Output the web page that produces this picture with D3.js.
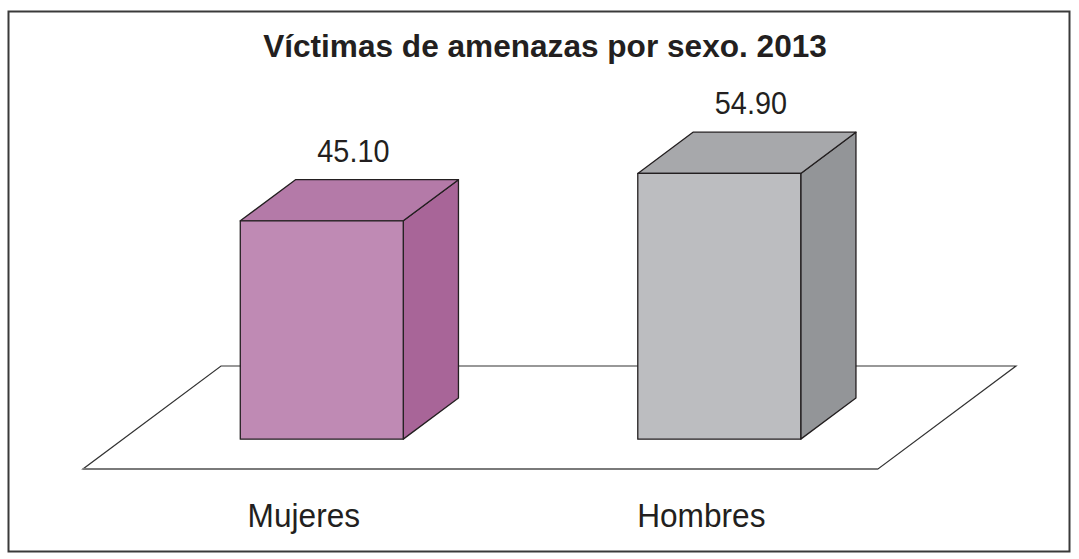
<!DOCTYPE html>
<html>
<head>
<meta charset="utf-8">
<script src="https://cdn.jsdelivr.net/npm/d3@7"></script>
<style>
  body { margin: 0; background: #fff; }
  svg { display: block; font-family: 'Liberation Sans', Arial, sans-serif; }
</style>
</head>
<body>
<div id="chart"></div>
<script>
// Chart data
const categories = ['Mujeres', 'Hombres'];
const values = [45.10, 54.90];
const chartTitle = 'Víctimas de amenazas por sexo. 2013';

const frontColors = ['#bf8ab4', '#bcbdc0'];
const topColors = ['#b47aa8', '#a7a8ab'];
const sideColors = ['#a86598', '#939598'];

const w = 1079;
const h = 559;

// floor geometry (oblique projection)
const floorFrontY = 469;
const depthX = 138; // horizontal shift for full floor depth
const depthY = -103; // vertical shift for full floor depth
const barDepth0 = 0.29;
const barDepth1 = 0.69;

const svg = d3.select('#chart')
  .append('svg')
  .attr('width', w)
  .attr('height', h);

// outer frame
svg.append('rect')
  .attr('x', 8.5)
  .attr('y', 11.5)
  .attr('width', 1061)
  .attr('height', 540)
  .attr('fill', 'none')
  .attr('stroke', '#3a3a3a')
  .attr('stroke-width', 2);

svg.append('text')
  .attr('x', 545)
  .attr('y', 57)
  .attr('text-anchor', 'middle')
  .attr('font-size', 31.6)
  .attr('font-weight', 'bold')
  .attr('fill', '#231f20')
  .text(chartTitle);

// scales: x along the front edge of the floor, y bar height in px
const xscale = d3.scaleBand()
  .domain(categories)
  .range([83, 878])
  .paddingInner(0.59)
  .paddingOuter(0.295);

const hscale = d3.scaleLinear()
  .domain([0, 60])
  .range([0, 290.4]);

// project a point at (front x, depth fraction, height)
function proj(x, d, z) {
  return [x + d * depthX, floorFrontY + d * depthY - z];
}

const line = d3.line();
const x0 = xscale.range()[0];
const x1 = xscale.range()[1];

// floor
svg.append('path')
  .attr('d', line([proj(x0, 0, 0), proj(x1, 0, 0), proj(x1, 1, 0), proj(x0, 1, 0)]) + 'Z')
  .attr('fill', '#fff')
  .attr('stroke', '#333')
  .attr('stroke-width', 1.2);

svg.append('path')
  .attr('d', line([proj(x0, 0, 0), proj(x1, 0, 0)]))
  .attr('stroke', '#7a7a7a')
  .attr('stroke-width', 2);

// bars
const bars = svg.selectAll('g.bar')
  .data(values)
  .enter()
  .append('g')
  .attr('class', 'bar');

function face(pts) {
  return line(pts) + 'Z';
}

// text narrowed a bit, like the condensed face of the original
function narrowText(sel, x, y, size, sx, txt) {
  sel.append('text')
    .attr('transform', `translate(${x},${y}) scale(${sx},1)`)
    .attr('text-anchor', 'middle')
    .attr('font-size', size)
    .attr('fill', '#231f20')
    .text(txt);
}

bars.each(function (v, i) {
  const g = d3.select(this);
  const left = xscale(categories[i]);
  const right = left + xscale.bandwidth();
  const z = hscale(v);

  // side face
  g.append('path')
    .attr('d', face([proj(right, barDepth0, 0), proj(right, barDepth1, 0),
      proj(right, barDepth1, z), proj(right, barDepth0, z)]))
    .attr('fill', sideColors[i]);
  // top face
  g.append('path')
    .attr('d', face([proj(left, barDepth0, z), proj(right, barDepth0, z),
      proj(right, barDepth1, z), proj(left, barDepth1, z)]))
    .attr('fill', topColors[i]);
  // front face
  g.append('path')
    .attr('d', face([proj(left, barDepth0, 0), proj(right, barDepth0, 0),
      proj(right, barDepth0, z), proj(left, barDepth0, z)]))
    .attr('fill', frontColors[i]);

  g.selectAll('path')
    .attr('stroke', '#231f20')
    .attr('stroke-width', 1.3)
    .attr('stroke-linejoin', 'round');

  // value label above the box
  const top = proj((left + right) / 2, (barDepth0 + barDepth1) / 2, z);
  const back = proj(left, barDepth1, z);
  narrowText(g, top[0] + 4, back[1] - 18, 32, 0.9, v.toFixed(2));
});

// category labels
categories.forEach((d) => {
  const px = proj(xscale(d) + xscale.bandwidth() / 2, 0.16, 0)[0];
  narrowText(svg, px, 527, 34, 0.93, d);
});
</script>
</body>
</html>
